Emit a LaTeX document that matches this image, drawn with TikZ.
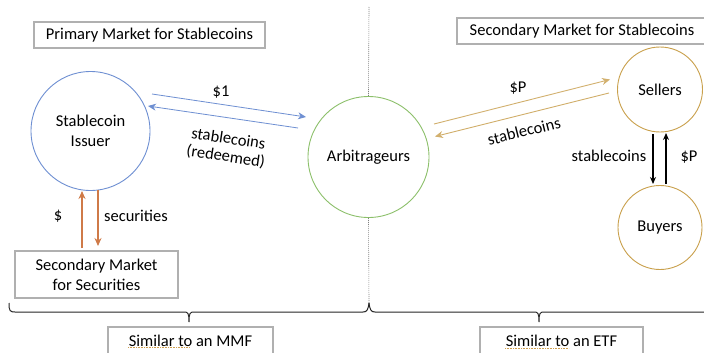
\documentclass[tikz,border=0pt]{standalone}
\usepackage{fontspec}
\setmainfont{Carlito}
\usetikzlibrary{arrows.meta,calc}
\definecolor{cblue}{HTML}{6E8FD2}
\definecolor{cgreen}{HTML}{8CC06A}
\definecolor{cgold}{HTML}{C9A04C}
\definecolor{cgoldl}{HTML}{D2B06E}
\definecolor{corange}{HTML}{CF7A48}
\definecolor{cbox}{HTML}{B0B0B0}
\definecolor{cspell}{HTML}{D0A050}
\tikzset{
  txt/.style={font=\fontsize{16.5}{20}\selectfont, inner sep=0pt, align=center},
  actor/.style={circle, inner sep=0pt, line width=0.9pt, txt},
  labelbox/.style={draw=cbox, line width=1.1pt, txt, inner sep=0pt},
  bluearr/.style={draw=cblue, line width=0.8pt, -{Stealth[length=8pt,width=7pt]}},
  goldarr/.style={draw=cgoldl, line width=0.9pt, -{Stealth[length=8pt,width=7pt]}},
  blackarr/.style={draw=black, line width=1.2pt, -{Stealth[length=7pt,width=6pt]}},
  orarr/.style={draw=corange, line width=1.6pt, -{Stealth[length=8pt,width=7pt]}},
  divider/.style={draw=gray, line width=0.6pt, dash pattern=on 1pt off 1pt},
  bracel/.style={draw=black!85, line width=1pt},
  spell/.style={draw=cspell, line width=0.8pt, dash pattern=on 0.8pt off 0.8pt}
}
\begin{document}
\begin{tikzpicture}[x=1pt,y=-1pt]
\clip (0,0) rectangle (704,353);
\fill[white] (0,0) rectangle (704,353);

% boxes
\node[labelbox, minimum width=231pt, minimum height=26pt] (prim) at (149.5,35) {Primary Market for Stablecoins};
\node[labelbox, minimum width=250pt, minimum height=26pt] (secm) at (582,31) {Secondary Market for Stablecoins};
\node[labelbox, minimum width=163pt, minimum height=47pt] (secs) at (96.5,274.5) {Secondary Market\\for Securities};
\node[labelbox, minimum width=165pt, minimum height=28pt] (mmf) at (190.5,341) {Similar to an MMF};
\node[labelbox, minimum width=163pt, minimum height=28pt] (etf) at (561.5,341) {Similar to an ETF};

% actors
\node[actor, draw=cblue, minimum size=119pt] (issuer) at (90.5,131) {Stablecoin\\Issuer};
\node[actor, draw=cgreen, minimum size=121pt] (arb) at (368.5,157) {Arbitrageurs};
\node[actor, draw=cgold, minimum size=85pt] (sell) at (660,89.5) {Sellers};
\node[actor, draw=cgold, minimum size=84pt] (buy) at (660,227.5) {Buyers};

% divider
\coordinate (dtop) at (369,7);
\coordinate (dbot) at (369,303);
\draw[divider] (dtop) -- (arb.north);
\draw[divider] (arb.south) -- (dbot);

% braces
\draw[bracel] (9,303) .. controls (9,311) and (10,312) .. (15,312) -- (184,312)
  .. controls (188,312) and (189,313) .. (189,322)
  .. controls (189,313) and (190,312) .. (194,312) -- (363,312)
  .. controls (367,312) and (368,310) .. (369,303);
\draw[bracel] (369,303) .. controls (370,310) and (371,312) .. (375,312) -- (534,312)
  .. controls (538,312) and (539,313) .. (539,322)
  .. controls (539,313) and (540,312) .. (544,312) -- (710,312);

% blue arrows
\coordinate (b1s) at (152,94);
\coordinate (b1e) at (306,117);
\coordinate (b2s) at (298,128);
\coordinate (b2e) at (148,106);
\draw[bluearr] (b1s) -- (b1e);
\draw[bluearr] (b2s) -- (b2e);
\node[txt] (l1) at (221,92) {\$1};
\node[txt, rotate=-8.5, font=\fontsize{16.5}{18}\selectfont] (l2) at (227,148) {stablecoins\\(redeemed)};

% gold arrows
\coordinate (g1s) at (434,124);
\coordinate (g1e) at (610,79.5);
\coordinate (g2s) at (609,93);
\coordinate (g2e) at (435,136.5);
\draw[goldarr] (g1s) -- (g1e);
\draw[goldarr] (g2s) -- (g2e);
\node[txt] (l4) at (518,88) {\$P};
\node[txt, rotate=14] (l5) at (524,131) {stablecoins};

% black arrows
\coordinate (k1s) at (653,134);
\coordinate (k1e) at (653,184);
\coordinate (k2s) at (666,184);
\coordinate (k2e) at (666,133);
\draw[blackarr] (k1s) -- (k1e);
\draw[blackarr] (k2s) -- (k2e);
\node[txt] (l6) at (609,156) {stablecoins};
\node[txt] (l7) at (689,157) {\$P};

% orange arrows
\coordinate (o1s) at (82,248);
\coordinate (o1e) at (82,191);
\coordinate (o2s) at (98,190);
\coordinate (o2e) at (98,246);
\draw[orarr] (o1s) -- (o1e);
\draw[orarr] (o2s) -- (o2e);
\node[txt] (l8) at (58,216) {\$};
\node[txt] (l9) at (136,216) {securities};

% spelling marks
\draw[spell] (128,347) -- (189,347);
\draw[spell] (505,348) -- (569,348);
\end{tikzpicture}
\end{document}
